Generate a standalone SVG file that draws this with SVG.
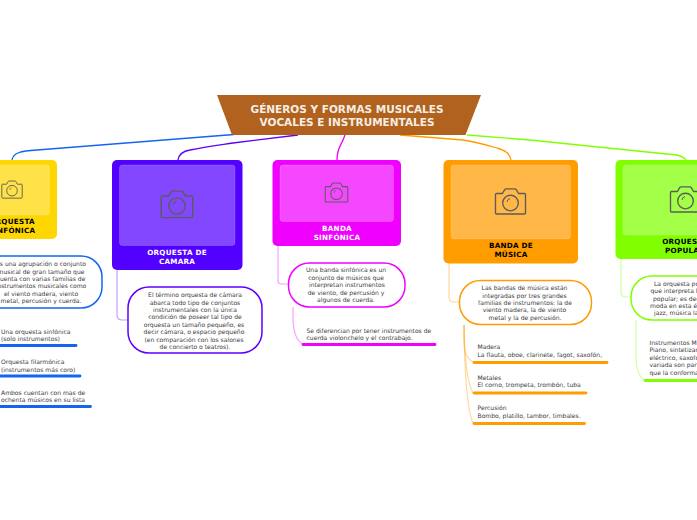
<svg xmlns="http://www.w3.org/2000/svg" width="697" height="520" viewBox="0 0 697 520">
<style>
text{font-family:"DejaVu Sans",Verdana,sans-serif;fill:#3c3c3c;font-size:6.05px}
.m{text-anchor:middle}
.title{font-size:10.5px;font-weight:bold;fill:#f6eee4;text-anchor:middle}
.lab{font-size:7.2px;font-weight:bold;text-anchor:middle;letter-spacing:.25px}
.w{fill:#fff}.k{fill:#000}
.inner{fill:#fff;fill-opacity:.28;stroke:#fff;stroke-opacity:.2;stroke-width:.8}
.cam{fill:none;stroke:#5c5c5c;stroke-linejoin:round}
.con{fill:none;stroke-width:1.3}
.sub{fill:none;stroke-width:1.2;stroke-opacity:.38}
.bub{fill:#fff;stroke-width:1.5}
.bar{stroke-width:2.8;stroke-linecap:round;fill:none}
</style>
<defs>
<g id="camera"><path class="cam" stroke-width="1.35" d="M-14-8.500h6l2.200-3.800q.6-.9 1.600-.9h8.400q1 0 1.600.9l2.200 3.800h6q1 0 1 1v18.500q0 1-1 1h-28q-1 0-1-1v-18.500q0-1 1-1z"/><circle class="cam" stroke-width="1.35" cx="0" cy="1" r="7.800"/><path class="cam" stroke-width="1" d="M-3.500 0a4 4 0 0 1 3-3.500"/></g>
</defs>
<g id="connectors">
<path class="con" stroke="#1464f4" d="M12 160C13 153 20 151 37 150L234 134.500"/>
<path class="con" stroke="#5e00ff" d="M178 160C179 153 184 151 190 150C205 147 220 145 233 143L298 135"/>
<path class="con" stroke="#f000ff" d="M337 160C337 147 341 147 345 135"/>
<path class="con" stroke="#ff9c00" d="M511 160C510 153 505 150 497 148C480 143 470 141 463 140L400 135"/>
<path class="con" stroke="#80ff00" d="M686 160C684 157 681 156 677 155L647 152L530 140L467 135"/>
<path class="sub" stroke="#1464f4" d="M-5 240V256"/>
<path class="sub" stroke="#5e00ff" d="M117 270V315Q117 320 122 320H128"/>
<path class="sub" stroke="#f000ff" d="M278 246V281Q278 284 282 284H289"/>
<path class="sub" stroke="#f000ff" d="M293 307V320Q294 340 303 344"/>
<path class="sub" stroke="#ff9c00" d="M449 263V297Q449 302 454 302H460"/>
<path class="sub" stroke="#ff9c00" d="M464 325V345Q465 358 473 362"/>
<path class="sub" stroke="#ff9c00" d="M464 325Q465 380 473 393"/>
<path class="sub" stroke="#ff9c00" d="M464 325Q465 405 473 423"/>
<path class="sub" stroke="#80ff00" d="M621 259V292Q621 297 626 297H632"/>
<path class="sub" stroke="#80ff00" d="M636 320V360Q637 376 645 381"/>
</g>
<g id="title">
<polygon points="217,95 481,95 465.500,135 232,135" fill="#b0621e"/>
<text class="title" x="347" y="113">GÉNEROS Y FORMAS MUSICALES</text>
<text class="title" x="347" y="126">VOCALES E INSTRUMENTALES</text>
</g>
<g id="orquesta-sinfonica">
<rect x="-33" y="160" width="90" height="79" rx="5" fill="#ffd700"/>
<rect class="inner" x="-25" y="165" width="74.500" height="50" rx="3"/>
<use href="#camera" transform="translate(12 190) scale(.68)"/>
<text class="lab k" x="12" y="224">ORQUESTA</text>
<text class="lab k" x="12" y="233">SINFÓNICA</text>
<rect class="bub" x="-60" y="256" width="162" height="52" rx="21" stroke="#1464f4"/>
<text class="m" x="41" y="266">Es una agrupación o conjunto</text>
<text class="m" x="41" y="273.500">musical de gran tamaño que</text>
<text class="m" x="41" y="280.500">cuenta con varias familias de</text>
<text class="m" x="41" y="288">instrumentos musicales como</text>
<text class="m" x="41" y="296">el viento madera, viento</text>
<text class="m" x="41" y="303">metal, percusión y cuerda.</text>
<text x="1" y="333.500">Una orquesta sinfónica</text>
<text x="1" y="340.500">(solo instrumentos)</text>
<path class="bar" stroke="#1464f4" d="M-3 345.500H76"/>
<text x="1" y="363.500">Orquesta filarmónica</text>
<text x="1" y="371.500">(instrumentos más coro)</text>
<path class="bar" stroke="#1464f4" d="M-3 376H80"/>
<text x="1" y="394.500">Ambos cuentan con mas de</text>
<text x="1" y="401.500">ochenta músicos en su lista</text>
<path class="bar" stroke="#1464f4" d="M-3 406.500H90.500"/>
</g>
<g id="orquesta-camara">
<rect x="112" y="160" width="130.500" height="110" rx="5" fill="#5200ff"/>
<rect class="inner" x="119.500" y="165" width="115.500" height="80.500" rx="3"/>
<use href="#camera" transform="translate(177 205) scale(1.05)"/>
<text class="lab w" x="177" y="255">ORQUESTA DE</text>
<text class="lab w" x="177" y="264">CAMARA</text>
<rect class="bub" x="128" y="287" width="134" height="66" rx="21" stroke="#5e00ff"/>
<text class="m" x="195" y="296.500">El término orquesta de cámara</text>
<text class="m" x="195" y="304.500">abarca todo tipo de conjuntos</text>
<text class="m" x="195" y="311.500">instrumentales con la única</text>
<text class="m" x="195" y="319">condición de poseer tal tipo de</text>
<text class="m" x="194" y="326.500">orquesta un tamaño pequeño, es</text>
<text class="m" x="194" y="334">decir cámara, o espacio pequeño</text>
<text class="m" x="194" y="341.500">(en comparación con los salones</text>
<text class="m" x="195" y="349">de concierto o teatros).</text>
</g>
<g id="banda-sinfonica">
<rect x="272.500" y="160" width="128.500" height="86" rx="5" fill="#f000ff"/>
<rect class="inner" x="280" y="165" width="113.500" height="56.500" rx="3"/>
<use href="#camera" transform="translate(336.500 193) scale(.75)"/>
<text class="lab w" x="337" y="231">BANDA</text>
<text class="lab w" x="337" y="240">SINFÓNICA</text>
<rect class="bub" x="288.500" y="263" width="116.500" height="44" rx="21" stroke="#f000ff"/>
<text class="m" x="346" y="272">Una banda sinfónica es un</text>
<text class="m" x="346" y="280">conjunto de músicos que</text>
<text class="m" x="347" y="287">interpretan instrumentos</text>
<text class="m" x="346" y="295">de viento, de percusión y</text>
<text class="m" x="346" y="302">algunos de cuerda.</text>
<text x="306.500" y="332.500">Se diferencian por tener instrumentos de</text>
<text x="306.500" y="339.500">cuerda violonchelo y el contrabajo.</text>
<path class="bar" stroke="#f000ff" d="M303 344.500H435"/>
</g>
<g id="banda-musica">
<rect x="443.500" y="160" width="134.500" height="103.500" rx="5" fill="#ff9c00"/>
<rect class="inner" x="451" y="165" width="119.500" height="74" rx="3"/>
<use href="#camera" transform="translate(510.500 202) scale(1)"/>
<text class="lab k" x="511" y="248">BANDA DE</text>
<text class="lab k" x="511" y="257">MÚSICA</text>
<rect class="bub" x="459.500" y="280.500" width="132" height="44" rx="21" stroke="#ff9c00"/>
<text class="m" x="524.500" y="290">Las bandas de música están</text>
<text class="m" x="524.500" y="297.500">integradas por tres grandes</text>
<text class="m" x="525" y="305">familias de instrumentos: la de</text>
<text class="m" x="524.500" y="312">viento madera, la de viento</text>
<text class="m" x="525" y="320">metal y la de percusión.</text>
<text x="477.500" y="349">Madera</text>
<text x="477.500" y="357">La flauta, oboe, clarinete, fagot, saxofón,</text>
<path class="bar" stroke="#ff9c00" d="M474 362.500H607"/>
<text x="477.500" y="380">Metales</text>
<text x="477.500" y="387">El corno, trompeta, trombón, tuba</text>
<path class="bar" stroke="#ff9c00" d="M474 393H586"/>
<text x="477.500" y="410">Percusión</text>
<text x="477.500" y="418">Bombo, platillo, tambor, timbales.</text>
<path class="bar" stroke="#ff9c00" d="M474 423.500H584.500"/>
</g>
<g id="orquesta-popular">
<rect x="615.500" y="160" width="139" height="99" rx="5" fill="#80ff00"/>
<rect class="inner" x="623" y="165" width="124" height="70" rx="3"/>
<use href="#camera" transform="translate(685.500 200) scale(1)"/>
<text class="lab k" x="685" y="243.500">ORQUESTA</text>
<text class="lab k" x="685" y="252.500">POPULAR</text>
<rect class="bub" x="631" y="276" width="150" height="44" rx="21" stroke="#80ff00"/>
<text x="654" y="285.500">La orquesta popular es</text>
<text x="650.500" y="293">que interpreta la música</text>
<text x="653" y="300.500">popular; es decir, la de</text>
<text x="650" y="308">moda en esta época,</text>
<text x="654" y="315">jazz, música latina</text>
<text x="649.500" y="345">Instrumentos Musicales:</text>
<text x="649.500" y="352">Piano, sintetizador, bajo</text>
<text x="649.500" y="360">eléctrico, saxofón, batería</text>
<text x="649.500" y="367">variada son parte de los</text>
<text x="649.500" y="375">que la conforman</text>
<path class="bar" stroke="#80ff00" d="M645 380.500H720"/>
</g>
</svg>
